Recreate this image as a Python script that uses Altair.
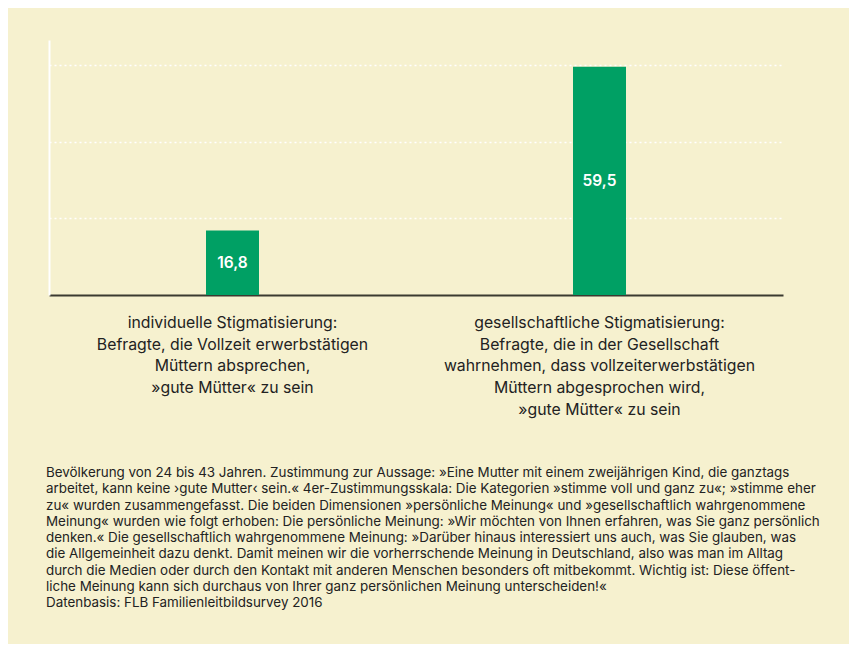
import altair as alt
import pandas as pd

categories = [
    "individuelle Stigmatisierung:\nBefragte, die Vollzeit erwerbstätigen\nMüttern absprechen,\n»gute Mütter« zu sein",
    "gesellschaftliche Stigmatisierung:\nBefragte, die in der Gesellschaft\nwahrnehmen, dass vollzeiterwerbstätigen\nMüttern abgesprochen wird,\n»gute Mütter« zu sein",
]
keys = ["ind", "ges"]
values = [16.8, 59.5]
value_labels = ["16,8", "59,5"]
grid_values = [20, 40, 60]

footnote_lines = [
    "Bevölkerung von 24 bis 43 Jahren. Zustimmung zur Aussage: »Eine Mutter mit einem zweijährigen Kind, die ganztags",
    "arbeitet, kann keine ›gute Mutter‹ sein.« 4er-Zustimmungsskala: Die Kategorien »stimme voll und ganz zu«; »stimme eher",
    "zu« wurden zusammengefasst. Die beiden Dimensionen »persönliche Meinung« und »gesellschaftlich wahrgenommene",
    "Meinung« wurden wie folgt erhoben: Die persönliche Meinung: »Wir möchten von Ihnen erfahren, was Sie ganz persönlich",
    "denken.« Die gesellschaftlich wahrgenommene Meinung: »Darüber hinaus interessiert uns auch, was Sie glauben, was",
    "die Allgemeinheit dazu denkt. Damit meinen wir die vorherrschende Meinung in Deutschland, also was man im Alltag",
    "durch die Medien oder durch den Kontakt mit anderen Menschen besonders oft mitbekommt. Wichtig ist: Diese öffent-",
    "liche Meinung kann sich durchaus von Ihrer ganz persönlichen Meinung unterscheiden!«",
    "Datenbasis: FLB Familienleitbildsurvey 2016",
]

df = pd.DataFrame({"key": keys, "cat": categories, "value": values, "label": value_labels})
foot_df = pd.DataFrame({"t": ["\n".join(footnote_lines)]})

FONT = "Inter"
GREEN = "#00a064"
BG = "#f6f1cf"

x_enc = alt.X("key:N", sort=keys, scale=alt.Scale(paddingInner=0, paddingOuter=0),
              axis=alt.Axis(title=None, labels=False, ticks=False, domainColor="#3a3a30",
                            domainWidth=2, grid=False))
y_scale = alt.Scale(domain=[0, 66.5], nice=False, zero=True)

bars = alt.Chart(df).mark_bar(size=53, color=GREEN).encode(
    x=x_enc,
    y=alt.Y("value:Q", scale=y_scale,
            axis=alt.Axis(title=None, labels=False, ticks=False, values=grid_values,
                          domainColor="white", domainWidth=2, grid=True,
                          gridColor="white", gridDash=[2, 3], gridWidth=1.5)),
)

vals = alt.Chart(df).transform_calculate(mid="datum.value / 2").mark_text(
    color="white", font=FONT, fontSize=15.5, fontWeight=600, baseline="middle"
).encode(
    x=alt.X("key:N", sort=keys),
    y=alt.Y("mid:Q", scale=y_scale),
    text="label:N",
)

cats = alt.Chart(df).mark_text(
    color="#222222", font=FONT, fontSize=15.8, baseline="middle", align="center",
    lineBreak="\n", lineHeight=21.7
).encode(
    x=alt.X("key:N", sort=keys),
    y=alt.value(283),
    text="cat:N",
)

foot = alt.Chart(foot_df).mark_text(
    color="#222222", font=FONT, fontSize=13.4, baseline="middle", align="left",
    lineBreak="\n", lineHeight=16.25
).encode(
    x=alt.value(-3),
    y=alt.value(433),
    text="t:N",
)

chart = alt.layer(bars, vals, cats, foot).properties(
    width=734, height=255,
    autosize=alt.AutoSizeParams(type="none"),
    padding={"left": 41, "top": 32, "right": 66, "bottom": 349},
    background=BG,
).configure_view(stroke=None)

chart.save("out.html", embed_options={"renderer": "svg", "actions": False})
